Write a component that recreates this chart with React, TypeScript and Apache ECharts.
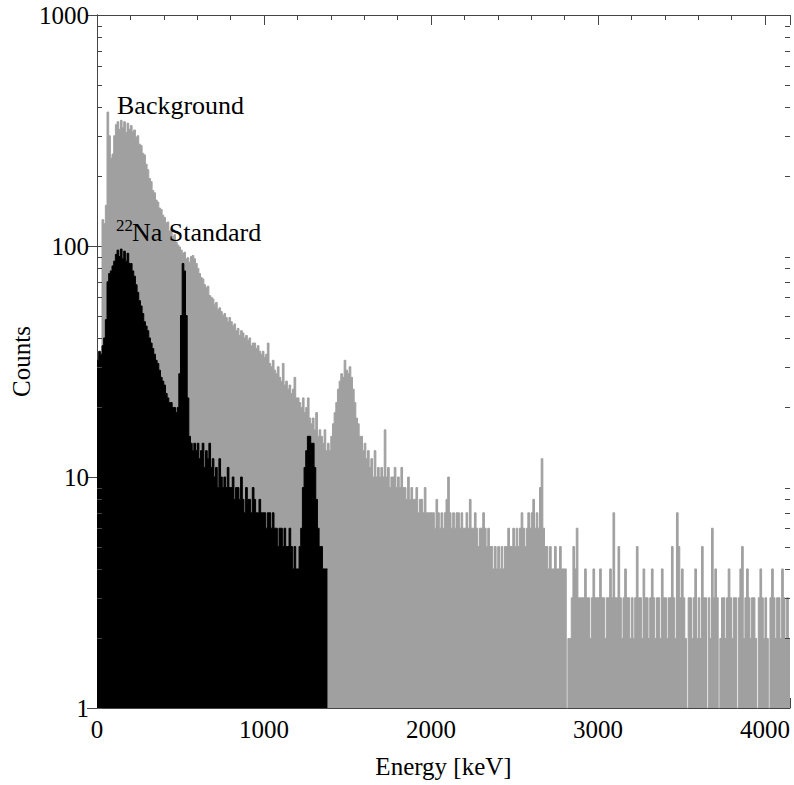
import React, { useEffect, useRef } from "react";
import * as echarts from "echarts";

// ---- data (counts per 10 keV bin) ----
const BG_BIN_KEV = 10;
const backgroundCounts = [
  1, 1, 1, 130, 125, 150, 380, 300, 240, 250, 300, 335, 345, 320, 350, 325, 345, 310, 340, 320,
  332, 312, 318, 296, 300, 276, 272, 252, 248, 226, 214, 196, 190, 174, 170, 158, 155, 146, 144, 136,
  133, 126, 127, 116, 118, 110, 112, 104, 101, 99, 96, 93, 94, 88, 89, 85, 90, 91, 88, 84,
  80, 76, 73, 72, 68, 66, 67, 61, 60, 59, 56, 57, 53, 54, 52, 50, 51, 49, 47, 49,
  47, 45, 46, 43, 44, 41, 43, 42, 40, 41, 39, 40, 37, 38, 38, 36, 37, 35, 34, 35,
  33, 34, 38, 31, 30, 32, 29, 28, 30, 27, 26, 31, 25, 26, 24, 25, 23, 24, 27, 22,
  22, 21, 20, 22, 19, 20, 22, 18, 17, 18, 16, 19, 15, 16, 15, 14, 16, 13, 14, 13,
  15, 17, 19, 21, 24, 26, 28, 27, 32, 29, 28, 30, 27, 24, 21, 18, 17, 15, 15, 13,
  14, 12, 13, 11, 12, 10, 13, 10, 11, 10, 11, 10, 16, 10, 11, 9, 10, 10, 11, 9,
  10, 9, 11, 9, 9, 8, 10, 8, 9, 8, 8, 9, 7, 8, 8, 7, 9, 7, 7, 7,
  7, 7, 6, 8, 7, 6, 7, 6, 7, 8, 10, 7, 6, 7, 6, 7, 7, 6, 7, 6,
  6, 7, 6, 8, 6, 6, 7, 6, 5, 6, 6, 7, 6, 5, 6, 5, 5, 4, 5, 4,
  5, 4, 5, 4, 5, 5, 6, 5, 5, 6, 5, 6, 5, 6, 7, 6, 5, 6, 7, 6,
  7, 8, 6, 7, 6, 9, 12, 6, 5, 5, 4, 5, 4, 4, 5, 4, 4, 5, 4, 4,
  4, 1, 2, 2, 3, 5, 4, 6, 3, 3, 3, 3, 4, 3, 3, 2, 3, 4, 3, 3,
  3, 4, 3, 3, 2, 3, 3, 4, 3, 7, 3, 3, 5, 3, 2, 3, 4, 3, 3, 2,
  3, 2, 3, 5, 3, 3, 2, 4, 3, 3, 2, 3, 4, 3, 2, 3, 3, 2, 4, 3,
  3, 2, 3, 3, 5, 3, 2, 7, 5, 3, 4, 3, 2, 1, 3, 3, 2, 3, 4, 2,
  3, 2, 5, 3, 3, 1, 3, 2, 6, 3, 4, 3, 1, 2, 3, 3, 2, 3, 4, 3,
  2, 3, 3, 1, 3, 4, 5, 2, 3, 4, 3, 2, 3, 3, 2, 1, 3, 4, 3, 2,
  3, 2, 1, 3, 4, 3, 2, 3, 3, 2, 4, 3, 2, 3, 2,
];

const NA_BIN_KEV = 10;
const naStandardCounts = [
  32, 35, 34, 37, 40, 48, 70, 76, 78, 82, 86, 92, 96, 90, 97, 88, 95, 86, 93, 84,
  84, 78, 74, 68, 63, 58, 55, 51, 47, 45, 43, 40, 38, 36, 34, 32, 31, 29, 27, 26,
  25, 23, 22, 21, 21, 20, 20, 19, 20, 28, 50, 84, 78, 50, 22, 15, 14, 13, 14, 13,
  14, 12, 13, 14, 11, 13, 12, 14, 11, 12, 10, 11, 9, 12, 10, 9, 10, 9, 11, 9,
  9, 10, 8, 9, 9, 8, 10, 8, 7, 9, 8, 8, 7, 9, 8, 7, 7, 8, 7, 7,
  7, 6, 7, 7, 6, 7, 6, 6, 5, 6, 6, 5, 6, 5, 5, 6, 5, 4, 5, 4,
  4, 5, 6, 9, 11, 13, 15, 15, 14, 14, 11, 8, 6, 5, 5, 4, 4, 4,
];

const X_MIN = 0;
const X_MAX = 4150;
const X_INTERVAL = 1000;
const Y_MIN = 1;
const Y_MAX = 1000;
const Y_DECADES = [1, 10, 100];
const Y_MINOR_MULTIPLES = [2, 3, 4, 5, 6, 7, 8, 9];

const SERIES_NAMES = ["Background", "22Na Standard"];

const GRAY = "#a0a0a0";
const BLACK = "#000000";
const AXIS = "#444444";
const FONT = "'Liberation Serif', 'Times New Roman', serif";

function toSteps(counts: number[], bin: number): [number, number][] {
  const pts: [number, number][] = counts.map((c, i) => [i * bin, c]);
  pts.push([counts.length * bin, counts[counts.length - 1]]);
  return pts;
}

export default function App() {
  const ref = useRef<HTMLDivElement>(null);

  useEffect(() => {
    const chart = echarts.init(ref.current!, null, { renderer: "svg" });

    const xAxisBase = {
      type: "value" as const,
      min: X_MIN,
      max: X_MAX,
      interval: X_INTERVAL,
      axisLine: { show: true, lineStyle: { color: AXIS, width: 1 } },
      axisTick: { show: true, inside: true, length: 10, lineStyle: { color: AXIS } },
      minorTick: { show: true, splitNumber: 5, length: 5, lineStyle: { color: AXIS } },
      splitLine: { show: false },
      minorSplitLine: { show: false },
    };
    const yAxisBase = {
      type: "log" as const,
      logBase: 10,
      min: Y_MIN,
      max: Y_MAX,
      axisLine: { show: true, lineStyle: { color: AXIS, width: 1 } },
      axisTick: { show: true, inside: true, length: 10, lineStyle: { color: AXIS } },
      splitLine: { show: false },
    };
    const plain = (v: number) => String(Math.round(v));

    chart.setOption({
      animation: false,
      backgroundColor: "#ffffff",
      grid: {
        left: 97,
        right: 4,
        top: 15,
        bottom: 77,
        containLabel: false,
        outerBoundsMode: "none",
      },
      xAxis: [
        {
          ...xAxisBase,
          position: "bottom",
          name: "Energy [keV]",
          nameLocation: "middle",
          nameGap: 46,
          nameTextStyle: { fontFamily: FONT, fontSize: 25, color: "#000" },
          axisLabel: {
            show: true,
            fontFamily: FONT,
            fontSize: 25,
            color: "#000",
            margin: 9,
            formatter: plain,
          },
        },
        { ...xAxisBase, position: "top", axisLabel: { show: false } },
      ],
      yAxis: [
        {
          ...yAxisBase,
          position: "left",
          name: "Counts",
          nameLocation: "middle",
          nameGap: 63,
          nameMoveOverlap: false,
          nameTextStyle: { fontFamily: FONT, fontSize: 25, color: "#000" },
          axisLabel: {
            show: true,
            fontFamily: FONT,
            fontSize: 25,
            color: "#000",
            margin: 8,
            formatter: plain,
          },
        },
        { ...yAxisBase, position: "right", axisLabel: { show: false } },
      ],
      series: [
        {
          name: SERIES_NAMES[0],
          type: "line",
          step: "end",
          xAxisIndex: 0,
          yAxisIndex: 0,
          data: toSteps(backgroundCounts, BG_BIN_KEV),
          symbol: "none",
          silent: true,
          lineStyle: { color: GRAY, width: 1 },
          areaStyle: { color: GRAY, opacity: 1, origin: "start" },
          z: 1,
        },
        {
          name: SERIES_NAMES[1],
          type: "line",
          step: "end",
          xAxisIndex: 0,
          yAxisIndex: 0,
          data: toSteps(naStandardCounts, NA_BIN_KEV),
          symbol: "none",
          silent: true,
          lineStyle: { color: BLACK, width: 1 },
          areaStyle: { color: BLACK, opacity: 1, origin: "start" },
          z: 2,
        },
      ],
    });

    const left = chart.convertToPixel({ xAxisIndex: 0 }, X_MIN) as number;
    const right = chart.convertToPixel({ xAxisIndex: 0 }, X_MAX) as number;
    const graphics: any[] = [];
    for (const d of Y_DECADES) {
      for (const k of Y_MINOR_MULTIPLES) {
        const y = Math.round(chart.convertToPixel({ yAxisIndex: 0 }, d * k) as number) + 0.5;
        graphics.push({
          type: "line",
          silent: true,
          z: 10,
          shape: { x1: left, y1: y, x2: left + 5, y2: y },
          style: { stroke: AXIS, lineWidth: 1 },
        });
        graphics.push({
          type: "line",
          silent: true,
          z: 10,
          shape: { x1: right - 5, y1: y, x2: right, y2: y },
          style: { stroke: AXIS, lineWidth: 1 },
        });
      }
    }
    graphics.push({
      type: "text",
      x: 117,
      y: 105,
      z: 20,
      style: { text: SERIES_NAMES[0], font: `26px ${FONT}`, fill: "#000", verticalAlign: "middle" },
    });
    graphics.push({
      type: "text",
      x: 116,
      y: 225,
      z: 20,
      style: { text: "22", font: `17px ${FONT}`, fill: "#000", verticalAlign: "middle" },
    });
    graphics.push({
      type: "text",
      x: 132,
      y: 232,
      z: 20,
      style: { text: "Na Standard", font: `26px ${FONT}`, fill: "#000", verticalAlign: "middle" },
    });
    chart.setOption({ graphic: graphics });

    return () => chart.dispose();
  }, []);

  return (
    <div
      ref={ref}
      style={{ position: "fixed", left: 0, top: 0, width: 794, height: 785, background: "#fff" }}
    />
  );
}
